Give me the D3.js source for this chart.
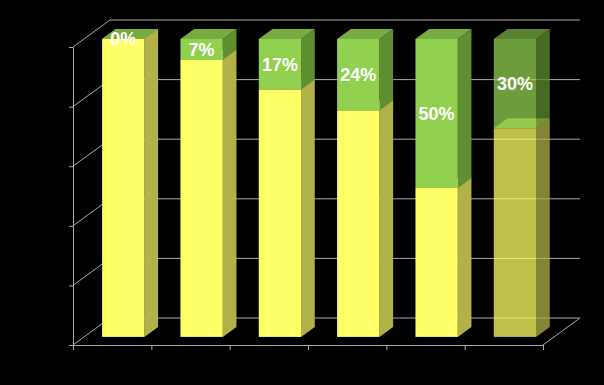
<!DOCTYPE html>
<html>
<head>
<meta charset="utf-8">
<script src="https://cdn.jsdelivr.net/npm/d3@7/dist/d3.min.js"></script>
<style>
html,body{margin:0;padding:0;background:#000;}
svg{display:block;}
</style>
</head>
<body>
<svg id="chart" width="604" height="385"></svg>
<script>
const categories = ["1", "2", "3", "4", "5", "6"];
const yellowValues = [100, 93, 83, 76, 50, 70];
const greenValues = [0, 7, 17, 24, 50, 30];
const greenLabels = ["0%", "7%", "17%", "24%", "50%", "30%"];
const yTicks = [0, 20, 40, 60, 80, 100];
const translucent = [false, false, false, false, false, true];

const svg = d3.select("#chart");
svg.append("rect").attr("width", 604).attr("height", 385).attr("fill", "#000");

const x = d3.scaleBand().domain(categories).range([73, 543]).padding(0);
const y = d3.scaleLinear().domain([0, 100]).range([345, 47]);
const DX = 37, DY = -27;
const d1 = 0.3, d2 = 0.67;
const barFrac = 0.54;
const gridColor = "#a8a8a8";

const g = svg.append("g");

// back wall gridlines
yTicks.forEach(t => {
  g.append("line").attr("x1", x.range()[0] + DX).attr("x2", x.range()[1] + DX)
    .attr("y1", y(t) + DY).attr("y2", y(t) + DY)
    .attr("stroke", gridColor).attr("stroke-width", 1);
  // left wall
  g.append("line").attr("x1", x.range()[0]).attr("x2", x.range()[0] + DX)
    .attr("y1", y(t)).attr("y2", y(t) + DY)
    .attr("stroke", gridColor).attr("stroke-width", 1);
});
// floor right edge
g.append("line").attr("x1", x.range()[1]).attr("x2", x.range()[1] + DX)
  .attr("y1", y(0)).attr("y2", y(0) + DY)
  .attr("stroke", gridColor).attr("stroke-width", 1);

// axes
const yAxis = d3.axisLeft(y).tickValues(yTicks).tickSize(4).tickFormat("");
const yg = svg.append("g").attr("transform", `translate(${x.range()[0]},0)`).call(yAxis);
const xAxis = d3.axisBottom(d3.scaleLinear().domain([0, categories.length]).range(x.range()))
  .tickValues(d3.range(categories.length + 1)).tickSize(5).tickFormat("");
const xg = svg.append("g").attr("transform", `translate(0,${y(0)})`).call(xAxis);
[yg, xg].forEach(a => {
  a.selectAll("path,line").attr("stroke", gridColor).attr("stroke-width", 1);
});

const colors = {
  yellow: {front: "#ffff66", side: "#b2b24a", top: "#e6e65a"},
  green: {front: "#92d050", side: "#5f8f30", top: "#78ab42"}
};

const bars = svg.append("g");
function segment(cat, v0, v1, c, op) {
  const bw = x.bandwidth() * barFrac;
  const x0 = x(cat) + (x.bandwidth() - bw) / 2, x1 = x0 + bw;
  const ax = DX * d1, ay = DY * d1, bx = DX * d2, by = DY * d2;
  const yt = y(v1), yb = y(v0);
  const pts = a => a.map(p => p.join(",")).join(" ");
  bars.append("polygon").attr("points", pts([[x1 + ax, yt + ay], [x1 + bx, yt + by], [x1 + bx, yb + by], [x1 + ax, yb + ay]]))
    .attr("fill", c.side).attr("fill-opacity", op);
  bars.append("polygon").attr("points", pts([[x0 + ax, yt + ay], [x0 + bx, yt + by], [x1 + bx, yt + by], [x1 + ax, yt + ay]]))
    .attr("fill", c.top).attr("fill-opacity", op);
  bars.append("rect").attr("x", x0 + ax).attr("y", yt + ay).attr("width", bw).attr("height", Math.max(0, yb - yt))
    .attr("fill", c.front).attr("fill-opacity", op);
}

categories.forEach((cat, i) => {
  const op = translucent[i] ? 0.75 : 1;
  segment(cat, 0, yellowValues[i], colors.yellow, op);
  segment(cat, yellowValues[i], yellowValues[i] + greenValues[i], colors.green, op);
});

// labels
categories.forEach((cat, i) => {
  const cx = x(cat) + x.bandwidth() / 2 + DX * d1;
  const cy = (y(yellowValues[i]) + y(yellowValues[i] + greenValues[i])) / 2 + DY * d1;
  svg.append("text").attr("x", cx).attr("y", cy).attr("dy", "0.36em")
    .attr("text-anchor", "middle")
    .attr("font-family", "Liberation Sans, Arial, sans-serif")
    .attr("font-weight", "bold").attr("font-size", 18)
    .attr("fill", "#ffffff").text(greenLabels[i]);
});
</script>
</body>
</html>
